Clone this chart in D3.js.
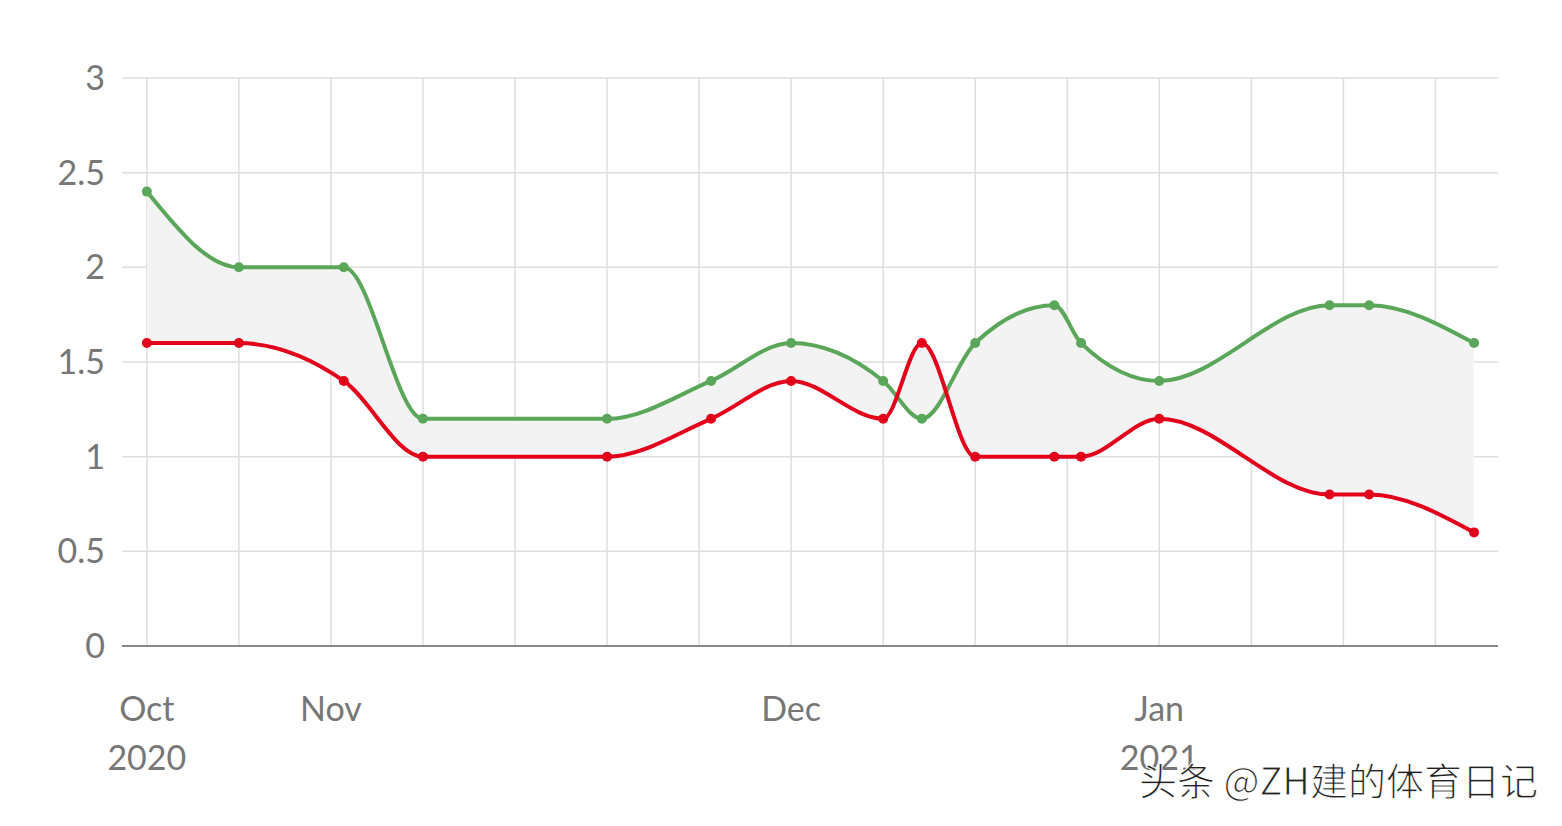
<!DOCTYPE html>
<html><head><meta charset="utf-8">
<script src="https://cdn.jsdelivr.net/npm/d3@7"></script>
<style>body{margin:0;background:#fff}</style>
</head><body><div id="chart"></div>
<script>
// x positions in weekly grid units
const xs = [0, 1, 2.14, 3, 5, 6.13, 7, 8, 8.42, 9, 9.86, 10.15, 11, 12.85, 13.28, 14.42];
const green = [2.4, 2.0, 2.0, 1.2, 1.2, 1.4, 1.6, 1.4, 1.2, 1.6, 1.8, 1.6, 1.4, 1.8, 1.8, 1.6];
const red = [1.6, 1.6, 1.4, 1.0, 1.0, 1.2, 1.4, 1.2, 1.6, 1.0, 1.0, 1.0, 1.2, 0.8, 0.8, 0.6];
const gridX = d3.range(0, 15);
const monthTicks = [{x: 0, a: "Oct", b: "2020"}, {x: 2, a: "Nov"}, {x: 7, a: "Dec"}, {x: 11, a: "Jan", b: "2021"}];
const yTicks = [0, 0.5, 1, 1.5, 2, 2.5, 3];

const width = 1562, height = 826;
const svg = d3.select("#chart").append("svg").attr("width", width).attr("height", height)
    .style("font-family", "Lato, 'Noto Sans', sans-serif");

const x = d3.scaleLinear().domain([-0.27, 14.68]).range([122, 1498]);
const y = d3.scaleLinear().domain([0, 3]).range([646, 78]);

svg.selectAll(".gx").data(gridX).enter().append("line")
    .attr("x1", d => x(d)).attr("x2", d => x(d)).attr("y1", y(3)).attr("y2", y(0))
    .attr("stroke", "#dedede").attr("stroke-width", 1.5);
svg.selectAll(".gy").data(yTicks.slice(1)).enter().append("line")
    .attr("x1", 122).attr("x2", 1498).attr("y1", d => y(d)).attr("y2", d => y(d))
    .attr("stroke", "#dedede").attr("stroke-width", 1.5);
svg.append("line").attr("x1", 122).attr("x2", 1498).attr("y1", y(0)).attr("y2", y(0))
    .attr("stroke", "#888").attr("stroke-width", 2);

svg.selectAll(".yl").data(yTicks).enter().append("text")
    .attr("x", 105).attr("y", d => y(d) + 12).attr("text-anchor", "end")
    .attr("font-size", 34).attr("fill", "#777").text(d => d);

monthTicks.forEach(t => {
    svg.append("text").attr("x", x(t.x)).attr("y", 721).attr("text-anchor", "middle")
        .attr("font-size", 34).attr("fill", "#777").text(t.a);
    if (t.b) svg.append("text").attr("x", x(t.x)).attr("y", 770).attr("text-anchor", "middle")
        .attr("font-size", 34).attr("fill", "#777").text(t.b);
});

const pts = xs.map((v, i) => ({x: v, g: green[i], r: red[i]}));
const curve = d3.curveMonotoneX;
svg.append("path").datum(pts)
    .attr("d", d3.area().x(d => x(d.x)).y0(d => y(d.r)).y1(d => y(d.g)).curve(curve))
    .attr("fill", "#f3f3f3");

[["g", "#5aa75a"], ["r", "#e3001b"]].forEach(([k, c]) => {
    svg.append("path").datum(pts)
        .attr("d", d3.line().x(d => x(d.x)).y(d => y(d[k])).curve(curve))
        .attr("fill", "none").attr("stroke", c).attr("stroke-width", 4);
    svg.selectAll(".p" + k).data(pts).enter().append("circle")
        .attr("cx", d => x(d.x)).attr("cy", d => y(d[k])).attr("r", 5).attr("fill", c);
});

svg.append("text").attr("x", 1538).attr("y", 795).attr("text-anchor", "end")
    .attr("font-size", 38).attr("fill", "#222").attr("stroke", "#fff").attr("stroke-width", 1)
    .style("font-family", "'Noto Sans CJK SC', sans-serif").text("头条 @ZH建的体育日记");
</script></body></html>
